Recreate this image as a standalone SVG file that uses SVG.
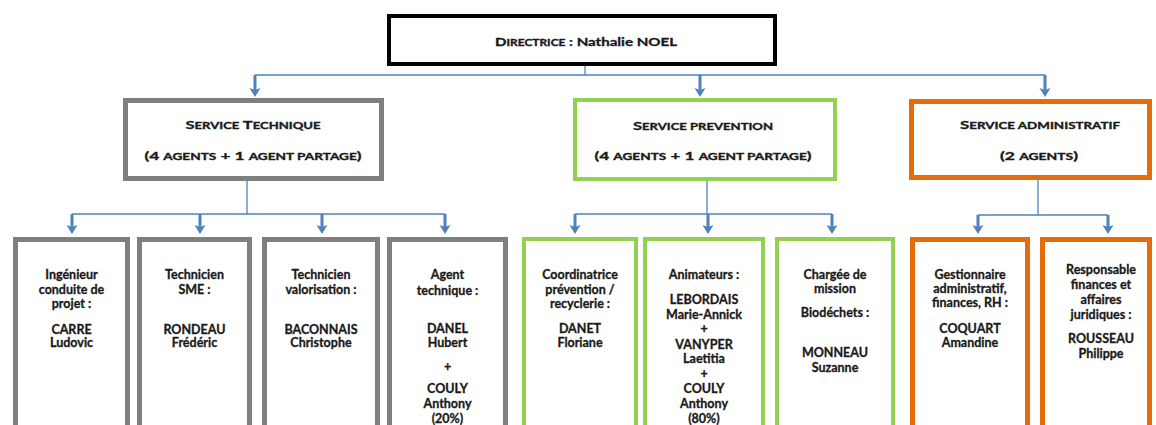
<svg xmlns="http://www.w3.org/2000/svg" width="1156" height="425" viewBox="0 0 1156 425">
<style>
  .bg{fill:#ffffff}
  .box{fill:#ffffff}
  .blk{stroke:#000000;stroke-width:4}
  .gry{stroke:#7f7f7f;stroke-width:5}
  .grn{stroke:#92d050;stroke-width:4}
  .org{stroke:#e46c0a;stroke-width:5}
  .hd{font-family:Lato,"Liberation Sans",sans-serif;font-weight:bold;font-size:12px;fill:#1a1a1a;stroke:#1a1a1a;stroke-width:0.35;text-anchor:middle}
  .sc{font-size:9.5px}
  .t{font-family:Lato,"Liberation Sans",sans-serif;font-weight:bold;font-size:12.5px;fill:#1a1a1a;stroke:#1a1a1a;stroke-width:0.3;text-anchor:middle}
  .ln{stroke:#4f81bd;stroke-width:1.3;fill:none}
  .ar{stroke:#4f81bd;stroke-width:3;fill:none;marker-end:url(#ah)}
</style>
<defs>
  <marker id="ah" viewBox="-6 -6 10 12" refX="0" refY="0" markerWidth="10" markerHeight="12" markerUnits="userSpaceOnUse" orient="auto">
    <path d="M4,0 L-5,-5.5 L-3,0 L-5,5.5 z" fill="#4f81bd"/>
  </marker>
</defs>
<rect class="bg" x="0" y="0" width="1156" height="425"/>

<g id="connectors">
  <line class="ln" x1="585" y1="66" x2="585" y2="75"/>
  <line class="ln" x1="255" y1="75" x2="1045" y2="75"/>
  <line class="ar" x1="255" y1="75" x2="255" y2="93"/>
  <line class="ar" x1="700" y1="75" x2="700" y2="93"/>
  <line class="ar" x1="1045" y1="75" x2="1045" y2="93"/>

  <line class="ln" x1="247" y1="181" x2="247" y2="214"/>
  <line class="ln" x1="72" y1="214" x2="445" y2="214"/>
  <line class="ar" x1="72" y1="214" x2="72" y2="230"/>
  <line class="ar" x1="200" y1="214" x2="200" y2="230"/>
  <line class="ar" x1="322" y1="214" x2="322" y2="230"/>
  <line class="ar" x1="445" y1="214" x2="445" y2="230"/>

  <line class="ln" x1="707" y1="181" x2="707" y2="214"/>
  <line class="ln" x1="575" y1="214" x2="832" y2="214"/>
  <line class="ar" x1="575" y1="214" x2="575" y2="230"/>
  <line class="ar" x1="708" y1="214" x2="708" y2="230"/>
  <line class="ar" x1="832" y1="214" x2="832" y2="230"/>

  <line class="ln" x1="1038" y1="180" x2="1038" y2="215"/>
  <line class="ln" x1="978" y1="215" x2="1108" y2="215"/>
  <line class="ar" x1="978" y1="215" x2="978" y2="230"/>
  <line class="ar" x1="1108" y1="215" x2="1108" y2="230"/>
</g>

<g id="directrice">
  <rect class="box blk" x="389" y="16" width="386" height="48"/>
  <text class="hd" x="586" y="46" textLength="182" lengthAdjust="spacingAndGlyphs">D<tspan class="sc">IRECTRICE</tspan> : Nathalie NOEL</text>
</g>

<g id="service-technique">
  <rect class="box gry" x="125.5" y="100.5" width="256" height="78"/>
  <text class="hd" x="253" y="129" textLength="135" lengthAdjust="spacingAndGlyphs">S<tspan class="sc">ERVICE</tspan> T<tspan class="sc">ECHNIQUE</tspan></text>
  <text class="hd" x="253" y="160" textLength="217" lengthAdjust="spacingAndGlyphs">(4 <tspan class="sc">AGENTS</tspan> + 1 <tspan class="sc">AGENT PARTAGE</tspan>)</text>
</g>

<g id="service-prevention">
  <rect class="box grn" x="575" y="100" width="260" height="79"/>
  <text class="hd" x="703" y="130" textLength="140" lengthAdjust="spacingAndGlyphs">S<tspan class="sc">ERVICE PREVENTION</tspan></text>
  <text class="hd" x="703" y="160" textLength="217" lengthAdjust="spacingAndGlyphs">(4 <tspan class="sc">AGENTS</tspan> + 1 <tspan class="sc">AGENT PARTAGE</tspan>)</text>
</g>

<g id="service-administratif">
  <rect class="box org" x="911.5" y="101.5" width="238" height="76"/>
  <text class="hd" x="1040" y="129" textLength="160" lengthAdjust="spacingAndGlyphs">S<tspan class="sc">ERVICE ADMINISTRATIF</tspan></text>
  <text class="hd" x="1039" y="160" textLength="78" lengthAdjust="spacingAndGlyphs">(2 <tspan class="sc">AGENTS</tspan>)</text>
</g>

<g id="ingenieur">
  <rect class="box gry" x="15.5" y="239.5" width="112" height="200"/>
  <text class="t" x="71.5" y="279">Ingénieur</text>
  <text class="t" x="71.5" y="294">conduite de</text>
  <text class="t" x="71.5" y="308">projet :</text>
  <text class="t" x="71.5" y="334">CARRE</text>
  <text class="t" x="71.5" y="347">Ludovic</text>
</g>

<g id="technicien-sme">
  <rect class="box gry" x="139.5" y="239.5" width="110" height="200"/>
  <text class="t" x="194.5" y="279">Technicien</text>
  <text class="t" x="194.5" y="294">SME :</text>
  <text class="t" x="194.5" y="334">RONDEAU</text>
  <text class="t" x="194.5" y="347">Frédéric</text>
</g>

<g id="technicien-valorisation">
  <rect class="box gry" x="264.5" y="239.5" width="113" height="200"/>
  <text class="t" x="321" y="279">Technicien</text>
  <text class="t" x="321" y="294">valorisation :</text>
  <text class="t" x="321" y="334">BACONNAIS</text>
  <text class="t" x="321" y="347">Christophe</text>
</g>

<g id="agent-technique">
  <rect class="box gry" x="389.5" y="239.5" width="116" height="200"/>
  <text class="t" x="447.5" y="279">Agent</text>
  <text class="t" x="447.5" y="295">technique :</text>
  <text class="t" x="447.5" y="333">DANEL</text>
  <text class="t" x="447.5" y="347">Hubert</text>
  <text class="t" x="447.5" y="371">+</text>
  <text class="t" x="447.5" y="393">COULY</text>
  <text class="t" x="447.5" y="408">Anthony</text>
  <text class="t" x="447.5" y="423">(20%)</text>
</g>

<g id="coordinatrice">
  <rect class="box grn" x="524" y="239" width="112" height="200"/>
  <text class="t" x="580" y="279">Coordinatrice</text>
  <text class="t" x="580" y="294">prévention /</text>
  <text class="t" x="580" y="308">recyclerie :</text>
  <text class="t" x="580" y="333">DANET</text>
  <text class="t" x="580" y="347">Floriane</text>
</g>

<g id="animateurs">
  <rect class="box grn" x="645" y="239" width="118" height="200"/>
  <text class="t" x="704" y="279">Animateurs :</text>
  <text class="t" x="704" y="304">LEBORDAIS</text>
  <text class="t" x="704" y="319">Marie-Annick</text>
  <text class="t" x="704" y="333">+</text>
  <text class="t" x="704" y="349">VANYPER</text>
  <text class="t" x="704" y="363">Laetitia</text>
  <text class="t" x="704" y="378">+</text>
  <text class="t" x="704" y="393">COULY</text>
  <text class="t" x="704" y="408">Anthony</text>
  <text class="t" x="704" y="423">(80%)</text>
</g>

<g id="chargee-mission">
  <rect class="box grn" x="777" y="239" width="116" height="200"/>
  <text class="t" x="835" y="279">Chargée de</text>
  <text class="t" x="835" y="293">mission</text>
  <text class="t" x="835" y="317">Biodéchets :</text>
  <text class="t" x="835" y="357">MONNEAU</text>
  <text class="t" x="835" y="372">Suzanne</text>
</g>

<g id="gestionnaire">
  <rect class="box org" x="912.5" y="239.5" width="115" height="200"/>
  <text class="t" x="970" y="279">Gestionnaire</text>
  <text class="t" x="970" y="293">administratif,</text>
  <text class="t" x="970" y="307">finances, RH :</text>
  <text class="t" x="970" y="333">COQUART</text>
  <text class="t" x="970" y="347">Amandine</text>
</g>

<g id="responsable">
  <rect class="box org" x="1042.5" y="239.5" width="107" height="200"/>
  <text class="t" x="1101" y="274">Responsable</text>
  <text class="t" x="1101" y="289">finances et</text>
  <text class="t" x="1101" y="304">affaires</text>
  <text class="t" x="1101" y="319">juridiques :</text>
  <text class="t" x="1101" y="343">ROUSSEAU</text>
  <text class="t" x="1101" y="358">Philippe</text>
</g>
</svg>
